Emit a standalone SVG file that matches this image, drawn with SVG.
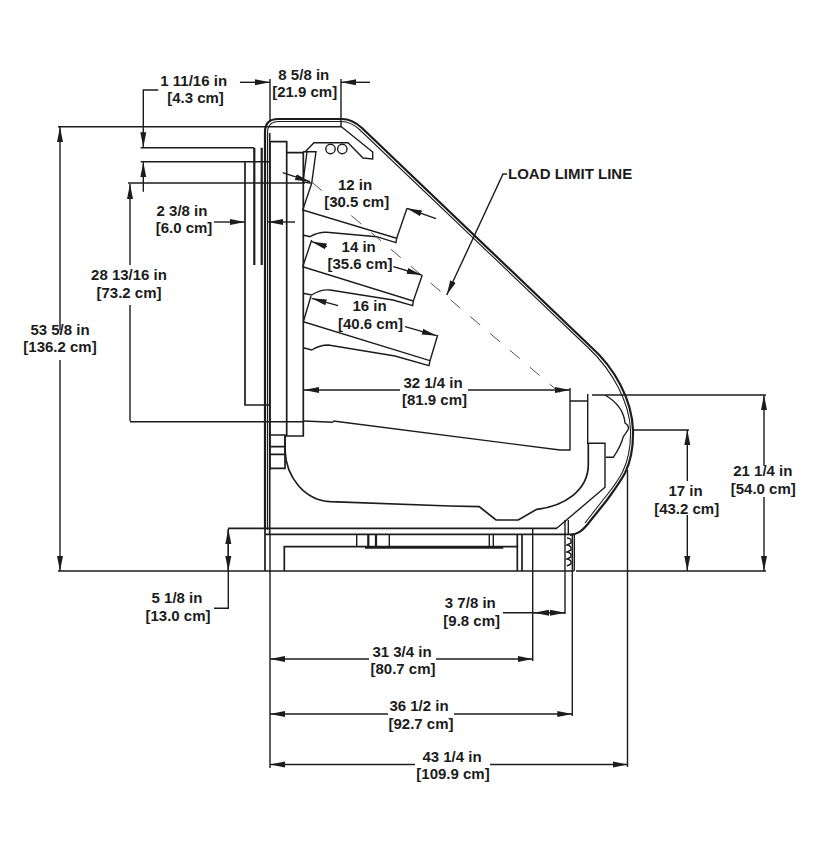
<svg xmlns="http://www.w3.org/2000/svg" width="820" height="850" viewBox="0 0 820 850">
<style>
text{font-family:"Liberation Sans",Arial,sans-serif;font-weight:700;font-size:15px;fill:#1c1c1c;text-anchor:middle}
path,circle{fill:none;stroke:#1c1c1c;stroke-width:1.4}
.h{stroke-width:2.2}
.t{stroke-width:1.1}
.m{stroke-width:1.7}
.a{marker-end:url(#arrow)}
.d{stroke:#555;stroke-width:1;stroke-dasharray:13 13}
#arrowHead{fill:#1c1c1c;stroke:none}
</style>
<defs>
<marker id="arrow" markerUnits="userSpaceOnUse" markerWidth="16" markerHeight="8" refX="15" refY="4" orient="auto"><path id="arrowHead" d="M0,1 L15,4 L0,7 z"/></marker>
</defs>
<rect width="820" height="850" fill="#fff"/>
<g id="case">
<path class="h" d="M265,530 V132 Q265,119 278,119 H342 Q352,119 362,128 L590,346 C615,368 632,400 633,430 C633.500,450 630,463 625,473 C619,484 612,493 607,500 L587,525 C582,531 578,534 570,535"/>
<path class="t" d="M267.500,530 V133 Q267.500,121.500 279,121.500 H341 Q351,121.500 360,130 L588.500,348 C612,370 629.500,402 630.500,430 C631,450 627.500,462 622.500,472 C617,483 610,491 604.500,498 L585,523"/>
<path class="m" d="M269.700,534 V133"/>
<path class="m" d="M270,141.700 H286.700 V436 H303.300 V152.700 H286.700 M270,141.700 V470"/>
<path class="m" d="M245,161.700 V405 H269"/>
<path class="h" d="M254.300,147.700 V265 M261.700,147.700 V265"/>
<path d="M341.700,127 L372.700,152 V159 L363,158 L348,142.700 H314 L305,152"/>
<circle cx="330.500" cy="149" r="4.700"/>
<circle cx="342.300" cy="149" r="4.700"/>
<path d="M303,151.700 H316 L311.700,183.300 L302.700,210 L396.700,238.300 L396,242.700 L376.700,236.700 L326.700,232.300 Q318,232 310,236.700 L302.700,235 M307,152 L303,182 L311.700,183.300"/>
<path d="M396.700,238.300 L407,208.300"/>
<path d="M311.700,240 L302.700,266.700 L413.300,301 L412.700,305.700 L393,300 L330,290 Q321,289 311.700,295 L303,293.300 M413.300,301 L422.300,275"/>
<path d="M311,296 L303.300,321.700 L430,360.700 L429,365.700 L395,356 L328.300,345 Q320,345 311.700,350 L303.300,347.700 M430,360.700 L437.700,335"/>
<path class="d" d="M311.700,182 L569.300,400.700"/>
<path d="M303.300,421 L333.300,422.300 M333.300,421 L560,450 H570 V388 M570,401 H588.300 M587.700,394 V443.300 H605 V487.300 L556.700,528.300"/>
<path class="m" d="M285,436 V450 C286,478 305,500 330,501.700 L450,506 L479.300,506.700 L496,520 H518.300 L536.700,509.300 C565,506 588,490 588.300,465 V443.300"/>
<path d="M605,395 C617,402 624,412 625,423 C628,425 629,428 628,430 L623.300,436.700 C621,446 617,452 613.300,457.300 H605.700"/>
<path d="M270,435 H285 V468.300 H270 M270,446.700 H285 M270,454.300 H285" class="m"/>
<path d="M265,530 V571 M284.300,571 V546.700 H518.300 M517.300,534 V571 M522,534 V571 M228,528.300 H557" class="m"/>
<path d="M265,534.300 H575" class="m"/>
<path class="h" d="M365,547.700 H503.300"/>
<path d="M356.700,534 V547 M389.300,534 V547 M489.300,534 V547 M493.300,534 V547 M568.300,520 V534 M574.300,534 V571"/>
<path class="h" d="M368.300,534 V548 M376,534 V548"/>
<path d="M567,538 Q572,538 571,543 L567,545 Q572,546 571,550 L567,552 Q572,553 571,557 L567,559 Q572,560 571,564 L567,566"/>
</g>
<g id="dimensions">
<path d="M58,126.700 H342 M58,571 H574 M576,571 H766"/>
<path d="M140.700,147.700 H254 M140.700,161.700 H269 M128,183 H305 M130,421.700 H303"/>
<path d="M270,79 V122 M341,79 V127 M270,534 V768 M532.700,528 V661 M565,520 V614 M572.300,534 V716 M627.500,470 V767 M592,395 H766 M634,430 H689"/>
<path class="a" d="M240,82.300 H270"/>
<path class="a" d="M370,82.300 H341"/>
<path class="a" d="M158.300,90 H143.300 V147.300"/>
<path class="a" d="M143.300,191.700 V162.300"/>
<path class="a" d="M130,265 V184"/>
<path d="M130,305 V421"/>
<path class="a" d="M60,330 V127"/>
<path class="a" d="M60,360 V571"/>
<path class="a" d="M214,222 H245"/>
<path class="a" d="M295,222 H268"/>
<path class="a" d="M282.700,172.700 L310,181.700"/>
<path class="a" d="M436,218.700 L407,208.300"/>
<path class="a" d="M327,246.700 L311.700,241.700"/>
<path class="a" d="M393.300,266.700 L421.700,275"/>
<path class="a" d="M338,305.700 L311.700,298.300"/>
<path class="a" d="M405,326.700 L436.700,335.700"/>
<path class="a" d="M400,390 H304"/>
<path class="a" d="M468,390 H570"/>
<path class="a" d="M507,174 H503 L446.700,295"/>
<path d="M228.300,529 V608.300 H214"/>
<path class="a" d="M228.300,550 V529"/>
<path class="a" d="M228.300,550 V571"/>
<path d="M503,612.700 H565"/>
<path class="a" d="M550,612.700 H534"/>
<path class="a" d="M550,612.700 H565"/>
<path class="a" d="M369,659 H270"/>
<path class="a" d="M436,659 H532.700"/>
<path class="a" d="M388,714 H270"/>
<path class="a" d="M454,714 H572.300"/>
<path class="a" d="M415,764.500 H270"/>
<path class="a" d="M490,764.500 H627.700"/>
<path class="a" d="M687.300,481 V430"/>
<path class="a" d="M687.300,515 V571"/>
<path class="a" d="M764,466 V395"/>
<path class="a" d="M764,497 V571"/>
</g>
<g id="labels">
<text x="193.700" y="86">1 11/16 in</text><text x="195.500" y="102.700">[4.3 cm]</text>
<text x="303.800" y="80">8 5/8 in</text><text x="304.700" y="96.700">[21.9 cm]</text>
<text x="355" y="190">12 in</text><text x="356.700" y="207">[30.5 cm]</text>
<text x="358.700" y="251.700">14 in</text><text x="360" y="269">[35.6 cm]</text>
<text x="369.500" y="310.700">16 in</text><text x="370.500" y="329">[40.6 cm]</text>
<text x="433" y="387.700">32 1/4 in</text><text x="434.500" y="405">[81.9 cm]</text>
<text x="182" y="216">2 3/8 in</text><text x="184" y="233">[6.0 cm]</text>
<text x="129" y="280">28 13/16 in</text><text x="129" y="298">[73.2 cm]</text>
<text x="60" y="335">53 5/8 in</text><text x="60" y="352">[136.2 cm]</text>
<text x="508" y="179" style="text-anchor:start">LOAD LIMIT LINE</text>
<text x="177" y="602.700">5 1/8 in</text><text x="178" y="620.700">[13.0 cm]</text>
<text x="470.300" y="608">3 7/8 in</text><text x="471.700" y="626">[9.8 cm]</text>
<text x="402" y="657">31 3/4 in</text><text x="403" y="674">[80.7 cm]</text>
<text x="419" y="710.700">36 1/2 in</text><text x="421" y="728.700">[92.7 cm]</text>
<text x="452" y="761.700">43 1/4 in</text><text x="453" y="779">[109.9 cm]</text>
<text x="685.500" y="495.700">17 in</text><text x="686.700" y="514">[43.2 cm]</text>
<text x="762.800" y="476">21 1/4 in</text><text x="763.300" y="494">[54.0 cm]</text>
</g>
</svg>
